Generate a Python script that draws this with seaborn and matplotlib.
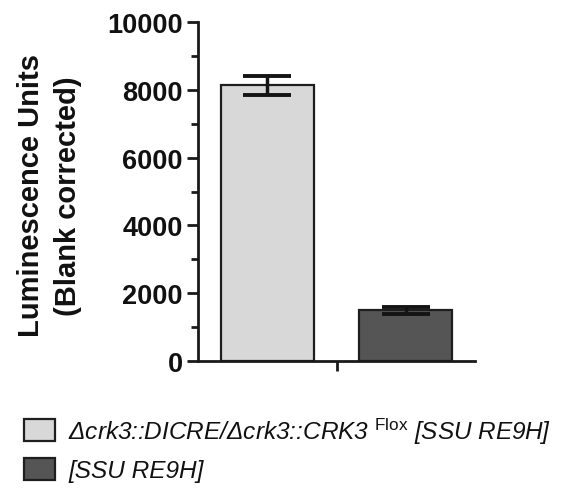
import numpy as np
import pandas as pd
import matplotlib
matplotlib.use("Agg")
import matplotlib.pyplot as plt
import seaborn as sns

sns.set_style("white")
plt.rcParams['font.family'] = ['Liberation Sans', 'DejaVu Sans']
plt.rcParams['mathtext.fontset'] = 'custom'
plt.rcParams['mathtext.rm'] = 'Liberation Sans'
plt.rcParams['mathtext.it'] = 'Liberation Sans:italic'
plt.rcParams['text.color'] = '#111111'
plt.rcParams['axes.labelcolor'] = '#111111'
plt.rcParams['ytick.color'] = '#111111'
plt.rcParams['xtick.color'] = '#111111'

# data
groups = ["Δcrk3::DICRE/Δcrk3::CRK3 $^{\\mathrm{Flox}}$ [SSU RE9H]", "[SSU RE9H]"]
means = [8130, 1490]
errs = [275, 95]
colors = ["#d8d8d8", "#555555"]

df = pd.DataFrame({"x": [""] * len(groups), "group": groups, "mean": means})

fig = plt.figure(figsize=(5.77, 4.89), dpi=100)
ax = fig.add_axes([198 / 577, 1 - 362 / 489, 277 / 577, 339 / 489])

sns.barplot(data=df, x="x", y="mean", hue="group", palette=colors, hue_order=groups,
            width=0.8, gap=0.33, errorbar=None, edgecolor="#1e1e1e", linewidth=1.6, ax=ax)

# error bars at the bar centres
for cont, e in zip(ax.containers, errs):
    for p in cont.patches:
        ax.errorbar(p.get_x() + p.get_width() / 2, p.get_height(), yerr=e, fmt="none",
                    ecolor="#141414", elinewidth=2.5, capsize=17.5, capthick=2.8, zorder=5)

ax.set_xlim(-0.4, 0.4)
ax.set_ylim(0, 10000)
ax.set_yticks(np.arange(0, 10001, 2000))
ax.set_yticks(np.arange(1000, 10000, 2000), minor=True)
ax.set_xticks([0])
ax.set_xticklabels([""])
ax.set_xlabel("")
sns.despine(ax=ax)
for s in ["left", "bottom"]:
    ax.spines[s].set_linewidth(2)
    ax.spines[s].set_color("#1a1a1a")
ax.tick_params(axis="y", which="major", direction="out", length=8, width=2, pad=3,
               labelsize=19.5, color="#1a1a1a", left=True)
ax.tick_params(axis="y", which="minor", direction="out", length=5, width=2, color="#1a1a1a", left=True)
ax.tick_params(axis="x", direction="out", length=7, width=2, color="#1a1a1a", bottom=True)
for t in ax.get_yticklabels():
    t.set_fontweight("bold")

ax.set_ylabel("Luminescence Units\n(Blank corrected)", fontsize=21, fontweight="bold", linespacing=1.4)
ax.yaxis.set_label_coords(-0.42, 0.49)

sns.move_legend(ax, "upper left", bbox_to_anchor=(0.042, 0.148), bbox_transform=fig.transFigure,
                frameon=False, title=None, prop={"size": 17.6, "style": "italic"},
                handlelength=1.25, handleheight=1.0, handletextpad=0.55, labelspacing=0.5,
                borderaxespad=0, borderpad=0)

fig.savefig("out.png", dpi=100)
